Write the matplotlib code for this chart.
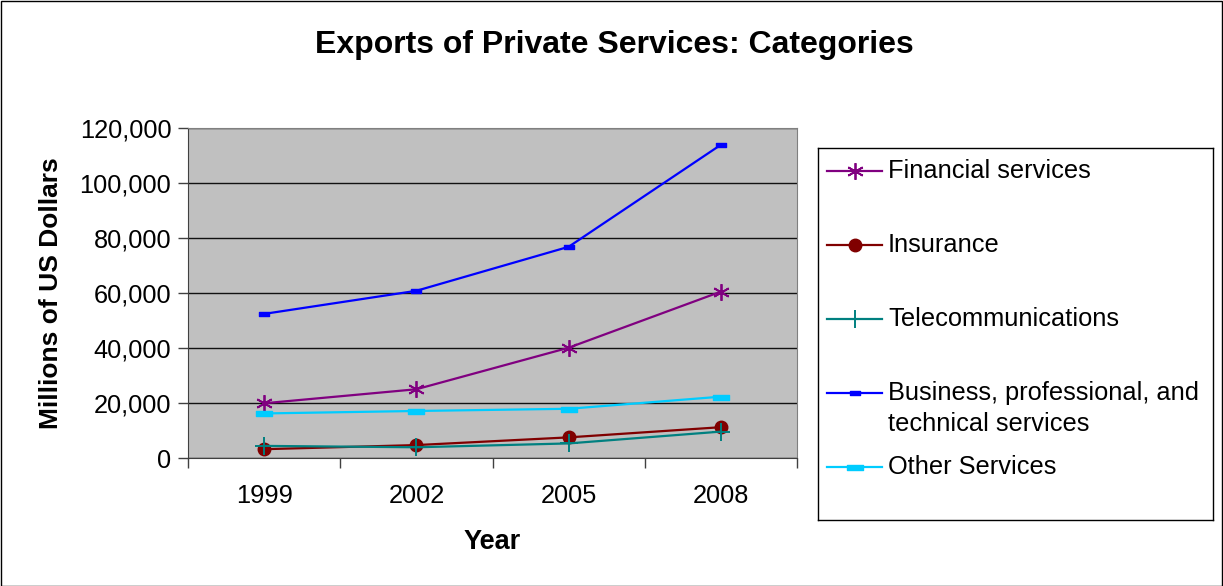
import matplotlib
matplotlib.use("Agg")
import matplotlib.pyplot as plt
from matplotlib.lines import Line2D
from matplotlib.patches import Rectangle
from matplotlib.ticker import FuncFormatter, FixedLocator
from matplotlib.path import Path

plt.rcParams['font.family'] = ['Liberation Sans', 'DejaVu Sans']

years = ["1999", "2002", "2005", "2008"]
financial = [19900, 25000, 40100, 60500]
insurance = [3200, 4700, 7500, 11200]
telecom = [4400, 3900, 5300, 9600]
business = [52400, 60800, 76800, 113900]
other = [16200, 17100, 17900, 22300]

labels = ["Financial services", "Insurance", "Telecommunications",
          "Business, professional, and\ntechnical services", "Other Services"]


def dash_path(h):
    return Path([(-1, -h), (1, -h), (1, h), (-1, h), (-1, -h)],
                [Path.MOVETO, Path.LINETO, Path.LINETO, Path.LINETO, Path.CLOSEPOLY])


styles = [
    dict(color="#800080", marker=(6, 2, 0), markersize=12, markeredgewidth=1.3, mfc="none"),
    dict(color="#800000", marker="o", markersize=9),
    dict(color="#008080", marker="+", markersize=13, markeredgewidth=1.4),
    dict(color="#0000FF", marker=dash_path(0.45), markersize=7),
    dict(color="#00CCFF", marker=dash_path(0.3), markersize=12),
]
series = [financial, insurance, telecom, business, other]

W, H = 1223, 586
FS = 18.3
fig = plt.figure(figsize=(W / 100, H / 100), dpi=100)
fig.patches.append(Rectangle((0.5 / W, 0.5 / H), 1 - 1.5 / W, 1 - 1.5 / H, transform=fig.transFigure,
                             fill=False, edgecolor="black", linewidth=1.0))

ax = fig.add_axes([188 / W, 1 - 458 / H, (797 - 188) / W, (458 - 128) / H])
ax.set_facecolor("#C0C0C0")
x = list(range(len(years)))
for s, st, lab in zip(series, styles, labels):
    ax.plot(x, s, linewidth=1.6, label=lab, zorder=3, **st)

ax.set_xlim(-0.5, 3.5)
ax.set_ylim(0, 120000)
ax.set_yticks(range(0, 120001, 20000))
ax.yaxis.set_major_formatter(FuncFormatter(lambda v, p: f"{int(v):,}"))
ax.yaxis.grid(True, color="#111111", linewidth=1.0)
ax.set_axisbelow(True)
ax.set_xticks(x)
ax.set_xticklabels(years)
ax.xaxis.set_minor_locator(FixedLocator([-0.5, 0.5, 1.5, 2.5, 3.5]))
ax.tick_params(axis="x", which="major", length=0, pad=19, labelsize=FS)
ax.tick_params(axis="x", which="minor", length=7, width=1, color="#404040")
ax.tick_params(axis="y", length=7, width=1, color="#404040", labelsize=FS, pad=5)
for sp in ax.spines.values():
    sp.set_color("#808080")
ax.spines["left"].set_color("#404040")
ax.spines["bottom"].set_color("#404040")

ax.set_ylabel("Millions of US Dollars", fontsize=19, fontweight="bold", labelpad=12)
ax.set_xlabel("Year", fontsize=19.5, fontweight="bold", labelpad=15)
fig.text(614 / W, 1 - 45 / H, "Exports of Private Services: Categories", ha="center", va="center",
         fontsize=23, fontweight="bold")

# legend box
lax = fig.add_axes([818 / W, 1 - 520 / H, (1213 - 818) / W, (520 - 148) / H])
lax.set_xlim(818, 1213)
lax.set_ylim(520, 148)
lax.set_xticks([])
lax.set_yticks([])
for sp in lax.spines.values():
    sp.set_color("black")
    sp.set_linewidth(1.0)
ly = [171, 245, 319, 393, 467]
for yy, st, lab in zip(ly, styles, labels):
    lax.add_line(Line2D([827, 854.5, 882], [yy, yy, yy], linewidth=1.6, markevery=[1], **st))
    lines = lab.split("\n")
    for i, t in enumerate(lines):
        lax.text(888, yy + 31 * i, t, ha="left", va="center", fontsize=FS)

fig.savefig("out.png", dpi=100)
